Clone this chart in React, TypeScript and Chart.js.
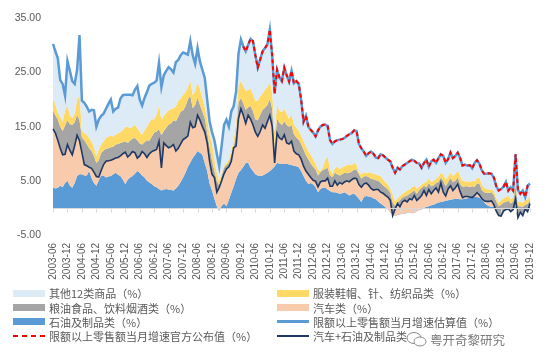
import React, { useEffect, useRef } from 'react';
import { Chart, registerables } from 'chart.js';

Chart.register(...registerables);

// Monthly categories 2003-06 .. 2019-12
const months: string[] = [];
for (let i = 0; i < 199; i++) {
  const t = 2003 * 12 + 5 + i;
  const y = Math.floor(t / 12);
  const m = (t % 12) + 1;
  months.push(`${y}-${String(m).padStart(2, '0')}`);
}

// Boundaries of the stacked areas (cumulative, %)
// 石油及制品类 (top of blue area)
const oilTop = [
  3.8, 3.6, 3.7, 4.1, 3.8, 4.6, 5.0, 4.1, 3.7, 4.6, 5.9, 6.2,
  6.2, 6.0, 6.0, 6.8, 5.5, 4.6, 4.1, 5.1, 6.0, 6.0, 5.6, 5.8,
  5.9, 6.2, 6.5, 6.1, 5.9, 5.2, 4.4, 5.2, 5.6, 5.9, 6.3, 6.8,
  6.5, 6.0, 5.6, 5.0, 4.7, 4.4, 4.0, 3.8, 3.5, 3.2, 3.4, 3.5,
  3.4, 3.3, 3.2, 3.6, 4.1, 4.8, 5.6, 6.5, 7.6, 8.4, 9.2, 9.8,
  10.5, 10.2, 9.8, 8.3, 6.8, 4.5, 3.2, 1.7, 0.3, -0.6, 0.4, 0.8,
  0.3, 1.5, 2.8, 4.0, 5.4, 6.5, 7.0, 7.6, 8.3, 8.4, 7.4, 6.8,
  6.2, 6.0, 5.9, 6.0, 6.2, 6.5, 6.8, 7.2, 7.7, 8.3, 8.2, 8.1,
  8.1, 8.2, 8.0, 7.9, 7.8, 7.7, 7.5, 6.8, 5.9, 5.0, 4.4, 4.6,
  4.3, 3.8, 2.9, 3.5, 3.7, 3.8, 3.4, 3.1, 2.9, 2.9, 2.8, 2.6,
  2.7, 2.9, 2.6, 2.3, 2.5, 2.6, 2.2, 1.7, 1.1, 2.0, 2.2, 2.1,
  2.0, 1.8, 1.6, 1.2, 0.8, 0.5, 0.1, -0.3, -0.8, -1.3, -1.4, -1.3,
  -1.2, -1.0, -1.1, -0.9, -0.8, -1.0, -0.9, -0.6, -0.4, -0.3, 0.0, 0.2,
  0.3, 0.5, 0.6, 0.8, 1.0, 1.1, 1.2, 1.3, 1.4, 1.5, 1.6, 1.7,
  1.7, 1.6, 1.6, 1.7, 1.8, 1.9, 2.0, 2.1, 2.0, 1.9, 1.5, 1.0,
  0.6, 0.3, 0.2, 0.2, -0.2, -0.4, -0.4, -0.2, 0.0, 0.1, 0.0, 0.1,
  0.3, -0.3, -0.2, -0.3, -0.1, 0.0, 0.2,
];

// 汽车+石油及制品类 (navy line, top of peach area)
const autoPlusOil = [
  14.6, 13.8, 12.5, 11.0, 9.8, 9.9, 11.7, 10.6, 9.8, 11.5, 13.4, 12.4,
  10.2, 8.0, 7.8, 7.5, 7.3, 6.6, 5.8, 5.7, 6.9, 8.0, 8.6, 8.7,
  8.8, 9.0, 9.2, 9.3, 9.6, 10.0, 10.3, 9.4, 9.8, 10.4, 10.2, 9.2,
  9.6, 10.4, 10.0, 9.3, 10.0, 10.4, 10.6, 10.8, 12.3, 7.4, 12.0, 11.5,
  11.1, 11.3, 11.7, 10.5, 11.0, 11.8, 12.6, 12.9, 13.3, 15.8, 14.8, 15.0,
  17.1, 16.2, 15.0, 14.0, 12.0, 8.6, 6.2, 5.6, 2.9, 3.8, 5.0, 6.3,
  7.2, 7.6, 8.6, 11.1, 11.4, 16.5, 18.3, 17.1, 15.6, 17.1, 16.4, 15.3,
  14.0, 13.2, 14.1, 15.3, 14.7, 15.9, 17.1, 15.0, 8.3, 13.8, 12.9, 12.6,
  13.5, 12.0, 11.8, 12.3, 10.5, 10.0, 9.8, 9.0, 7.7, 6.8, 6.2, 5.6,
  5.1, 4.9, 3.9, 4.8, 5.0, 5.0, 5.5, 4.0, 4.0, 5.0, 4.2, 4.7,
  4.4, 4.8, 5.0, 4.8, 5.2, 5.5, 5.4, 4.3, 3.8, 4.4, 4.6, 4.2,
  3.6, 3.3, 3.4, 3.4, 2.9, 2.7, 2.3, 2.0, 1.4, -1.4, -0.2, 0.8,
  0.2, 1.1, 1.4, 1.1, 1.7, 1.5, 2.3, 1.4, 1.8, 2.3, 3.2, 2.3,
  3.4, 2.6, 3.2, 3.7, 2.9, 4.6, 2.9, 2.2, 3.5, 4.1, 3.2, 3.7,
  4.4, 3.0, 1.9, 2.1, 2.1, 2.0, 1.9, 2.3, 2.8, 2.4, 1.7, 1.3,
  1.2, 1.2, 1.3, 0.6, -0.6, -1.4, -1.5, -0.6, -0.3, -0.2, -0.7, -0.3,
  1.6, -1.8, -0.8, -1.4, -0.2, -0.7, 0.8,
];

// top of 粮油食品、饮料烟酒类 (grey area)
const foodTop = [
  18.0, 17.1, 16.3, 15.0, 14.2, 15.2, 16.2, 15.5, 15.3, 15.8, 17.2, 16.2,
  13.0, 12.5, 11.8, 11.0, 10.5, 9.6, 8.3, 8.8, 10.2, 10.6, 10.9, 11.0,
  11.2, 11.3, 11.7, 11.8, 12.0, 12.1, 12.3, 12.0, 12.4, 12.8, 12.9, 12.5,
  11.9, 11.7, 12.1, 12.5, 12.4, 13.2, 13.9, 14.1, 14.5, 13.4, 14.2, 14.8,
  15.4, 15.6, 16.2, 16.0, 16.8, 17.8, 18.0, 18.8, 20.0, 20.7, 18.4, 19.0,
  20.4, 19.0, 17.8, 16.5, 14.0, 11.2, 8.8, 6.8, 5.0, 4.2, 6.0, 7.4,
  7.9, 8.3, 9.8, 11.2, 14.0, 19.5, 20.3, 19.3, 18.1, 18.6, 18.8, 17.9,
  16.3, 16.2, 17.2, 18.1, 18.5, 19.0, 20.1, 18.3, 11.1, 16.5, 15.7, 15.3,
  16.0, 15.3, 15.0, 15.3, 13.6, 13.0, 12.6, 11.8, 10.8, 9.7, 9.0, 8.2,
  7.6, 7.1, 6.0, 6.6, 7.0, 7.2, 7.4, 6.0, 5.7, 6.5, 6.2, 6.0,
  6.2, 6.5, 6.4, 6.5, 6.7, 7.1, 7.0, 6.2, 5.4, 5.8, 5.9, 5.7,
  5.4, 5.3, 5.1, 5.0, 4.6, 4.2, 3.8, 3.4, 2.8, 1.0, 0.4, 1.1,
  1.4, 1.9, 2.1, 2.3, 2.6, 2.9, 3.2, 2.6, 3.3, 3.7, 4.1, 3.8,
  4.6, 4.0, 4.2, 4.6, 4.8, 5.6, 5.0, 4.0, 4.8, 5.5, 4.8, 5.0,
  5.6, 4.4, 3.9, 4.0, 4.0, 3.8, 4.0, 3.9, 4.5, 4.5, 3.3, 2.9,
  2.8, 2.8, 2.9, 2.4, 1.2, 0.3, 0.6, 1.0, 1.1, 1.3, 0.8, 1.2,
  4.0, 0.3, 0.3, 0.2, 0.6, 0.7, 1.5,
];

// top of 服装鞋帽、针、纺织品类 (yellow area)
const clothingTop = [
  20.4, 19.1, 17.6, 16.8, 15.9, 18.0, 18.9, 17.1, 16.6, 17.4, 20.0, 20.8,
  14.4, 13.8, 13.5, 12.9, 12.3, 11.2, 9.6, 10.8, 11.7, 12.3, 13.0, 13.2,
  13.3, 13.2, 13.5, 13.8, 14.0, 14.4, 15.0, 15.0, 14.7, 15.0, 15.3, 14.8,
  14.0, 13.5, 14.3, 15.0, 15.8, 16.4, 16.3, 17.3, 19.0, 16.2, 17.0, 17.5,
  18.0, 18.3, 18.4, 18.7, 19.8, 20.2, 20.9, 21.4, 22.3, 23.5, 20.8, 21.6,
  23.2, 22.0, 20.3, 18.6, 16.5, 13.5, 12.0, 9.0, 6.5, 5.0, 6.5, 7.8,
  8.3, 9.0, 10.6, 12.5, 16.0, 22.5, 23.5, 22.5, 21.6, 21.8, 22.0, 21.0,
  19.8, 19.8, 20.6, 21.1, 21.8, 22.3, 23.3, 21.2, 14.0, 19.2, 17.9, 17.7,
  18.3, 17.4, 16.4, 17.3, 15.4, 14.8, 14.2, 13.3, 12.4, 11.3, 10.5, 9.8,
  9.0, 8.2, 7.1, 6.8, 7.5, 8.9, 9.5, 7.2, 6.3, 7.3, 7.6, 7.2,
  7.5, 7.7, 7.9, 8.0, 7.9, 8.3, 8.0, 6.6, 6.2, 6.6, 6.5, 6.6,
  6.5, 6.3, 6.2, 6.0, 5.9, 5.3, 4.8, 4.3, 3.6, 2.5, 1.2, 1.8,
  2.2, 2.6, 2.9, 3.2, 3.4, 3.8, 4.1, 3.6, 3.9, 4.3, 4.7, 4.8,
  5.5, 4.8, 5.0, 5.4, 5.8, 6.5, 6.2, 5.2, 5.8, 6.6, 5.9, 6.2,
  7.0, 5.9, 5.0, 4.9, 4.9, 4.8, 5.0, 4.9, 5.5, 5.6, 4.3, 3.7,
  3.5, 3.4, 3.4, 3.1, 1.8, 1.0, 1.4, 1.8, 2.0, 2.3, 1.6, 1.9,
  5.0, 1.1, 1.1, 1.0, 1.3, 1.6, 2.2,
];

// 限额以上零售额当月增速估算值 (blue line, top of stack)
const estimate = [
  30.3, 28.9, 27.6, 23.6, 22.9, 20.7, 27.1, 25.3, 23.4, 22.9, 25.5, 31.9,
  19.8, 19.4, 18.7, 17.8, 18.1, 18.0, 15.0, 16.3, 17.0, 17.4, 18.3, 19.2,
  20.0, 17.8, 18.3, 18.5, 20.2, 20.8, 20.9, 20.9, 20.9, 20.8, 21.8, 22.5,
  20.0, 18.9, 20.3, 21.4, 22.6, 22.9, 23.1, 23.5, 26.8, 22.3, 24.5, 25.3,
  26.0, 25.6, 25.0, 26.9, 27.3, 28.2, 28.7, 28.5, 28.3, 30.8, 28.2, 26.6,
  29.5, 27.0, 25.5, 24.0, 20.0, 16.0, 14.0, 12.5, 10.0, 7.7, 11.5, 15.3,
  16.3, 15.0, 17.8, 18.8, 21.5, 28.5, 31.1, 29.8, 28.9, 30.1, 31.2, 30.8,
  28.2, 25.9, 27.4, 28.9, 29.5, 30.2, 32.9, 28.0, 21.1, 25.5, 24.1, 23.4,
  25.9, 24.5, 23.3, 25.3, 23.0, 23.4, 22.9, 20.0, 15.9, 17.0, 15.0, 14.4,
  13.9, 13.2, 14.3, 15.0, 15.3, 15.4, 15.1, 12.5, 11.8, 12.3, 12.5, 12.6,
  12.7, 12.9, 13.3, 13.6, 13.8, 14.3, 14.2, 11.8, 11.0, 10.4, 9.6, 10.1,
  10.4, 10.0, 9.3, 9.2, 9.9, 9.7, 9.3, 8.9, 8.6, 7.4, 6.5, 7.4,
  7.1, 7.7, 8.0, 8.3, 8.6, 8.9, 8.7, 8.3, 8.2, 7.4, 8.3, 8.9,
  7.6, 8.6, 8.9, 8.3, 9.2, 9.9, 9.6, 8.3, 9.0, 10.2, 9.2, 9.6,
  10.2, 9.2, 7.8, 8.0, 7.8, 7.9, 7.3, 8.3, 8.8, 8.2, 6.9, 6.3,
  6.3, 6.4, 6.3, 5.6, 4.0, 3.2, 3.5, 3.9, 4.8, 3.2, 3.8, 3.2,
  9.9, 3.3, 2.6, 3.2, 2.0, 4.1, 4.5,
];

// 限额以上零售额当月增速官方公布值 (red dashed), 2010-01 .. 2019-12
const officialStart = '2010-01';
const official = [
  29.8, 28.9, 30.1, 31.2, 30.8,
  28.2, 25.9, 27.4, 28.9, 29.5, 30.2, 32.9, 28.0, 21.1, 25.5, 24.1, 23.4,
  25.9, 24.5, 23.3, 25.3, 23.0, 23.4, 22.9, 20.0, 15.9, 17.0, 15.0, 14.4,
  13.9, 13.2, 14.3, 15.0, 15.3, 15.4, 15.1, 12.5, 11.8, 12.3, 12.5, 12.6,
  12.7, 12.9, 13.3, 13.6, 13.8, 14.3, 14.2, 11.8, 11.0, 10.4, 9.6, 10.1,
  10.4, 10.0, 9.3, 9.2, 9.9, 9.7, 9.3, 8.9, 8.6, 7.4, 6.5, 7.4,
  7.1, 7.7, 8.0, 8.3, 8.6, 8.9, 8.7, 8.3, 8.2, 7.4, 8.3, 8.9,
  7.6, 8.6, 8.9, 8.3, 9.2, 9.9, 9.6, 8.3, 9.0, 10.2, 9.2, 9.6,
  10.2, 9.2, 7.8, 8.0, 7.8, 7.9, 7.3, 8.3, 8.8, 8.2, 6.9, 6.3,
  6.3, 6.4, 6.3, 5.6, 4.0, 3.2, 3.5, 3.9, 4.8, 3.2, 3.8, 3.2,
  9.9, 3.3, 2.6, 3.2, 2.0, 4.1, 4.5,
];

const yTicks = [-5, 5, 15, 25, 35];

const C_OTHER = '#DDEBF7';
const C_CLOTH = '#FFD966';
const C_FOOD = '#A5A5A5';
const C_AUTO = '#F8CBAD';
const C_OIL = '#5B9BD5';
const C_EST = '#5B9BD5';
const C_OFF = '#FF0000';
const C_NAVY = '#1F3864';

const officialData: (number | null)[] = months.map(() => null);
const offIdx = months.indexOf(officialStart);
official.forEach((v, i) => { officialData[offIdx + i] = v; });

const zeroAxis = {
  id: 'zeroAxis',
  afterDatasetsDraw(chart: any) {
    const { ctx, chartArea, scales } = chart;
    const x = scales.x, y = scales.y;
    const y0 = Math.round(y.getPixelForValue(0)) + 0.5;
    ctx.save();
    ctx.strokeStyle = '#D9D9D9';
    ctx.lineWidth = 1;
    ctx.setLineDash([]);
    ctx.beginPath();
    ctx.moveTo(chartArea.left, y0);
    ctx.lineTo(chartArea.right, y0);
    for (let i = 0; i < months.length; i += 6) {
      const px = Math.round(x.getPixelForValue(i)) + 0.5;
      ctx.moveTo(px, y0);
      ctx.lineTo(px, y0 + 4);
    }
    ctx.stroke();
    ctx.restore();
  },
};

const areaDs = (label: string, data: number[], color: string, fill: any, order: number) => ({
  type: 'line' as const,
  label,
  data,
  backgroundColor: color,
  borderColor: 'rgba(0,0,0,0)',
  borderWidth: 0,
  pointRadius: 0,
  pointHoverRadius: 0,
  tension: 0,
  fill,
  order,
});

const FONT = "'Liberation Sans', 'Noto Sans CJK SC', sans-serif";
const CJK = "'Noto Sans CJK SC', 'Liberation Sans', sans-serif";

type LegendItem = { label: string; kind: 'box' | 'line' | 'dash'; color: string; col: number; row: number; thick?: number };
const legendItems: LegendItem[] = [
  { label: '其他12类商品（%）', kind: 'box', color: C_OTHER, col: 0, row: 0 },
  { label: '服装鞋帽、针、纺织品类（%）', kind: 'box', color: C_CLOTH, col: 1, row: 0 },
  { label: '粮油食品、饮料烟酒类（%）', kind: 'box', color: C_FOOD, col: 0, row: 1 },
  { label: '汽车类（%）', kind: 'box', color: C_AUTO, col: 1, row: 1 },
  { label: '石油及制品类（%）', kind: 'box', color: C_OIL, col: 0, row: 2 },
  { label: '限额以上零售额当月增速估算值（%）', kind: 'line', color: C_EST, col: 1, row: 2, thick: 3 },
  { label: '限额以上零售额当月增速官方公布值（%）', kind: 'dash', color: C_OFF, col: 0, row: 3 },
  { label: '汽车+石油及制品类', kind: 'line', color: C_NAVY, col: 1, row: 3, thick: 2 },
];
const rowY = [293, 307.5, 321.7, 336];
const colX = [13, 277];

export default function App() {
  const ref = useRef<HTMLCanvasElement>(null);
  useEffect(() => {
    document.body.style.margin = '0';
    const chart = new Chart(ref.current as HTMLCanvasElement, {
      type: 'line',
      data: {
        labels: months,
        datasets: [
          areaDs('石油及制品类（%）', oilTop, C_OIL, 'origin', 7),
          areaDs('汽车类（%）', autoPlusOil, C_AUTO, '-1', 6),
          areaDs('粮油食品、饮料烟酒类（%）', foodTop, C_FOOD, '-1', 5),
          areaDs('服装鞋帽、针、纺织品类（%）', clothingTop, C_CLOTH, '-1', 4),
          areaDs('其他12类商品（%）', estimate, C_OTHER, '-1', 3),
          {
            type: 'line', label: '限额以上零售额当月增速估算值（%）', data: estimate,
            borderColor: C_EST, backgroundColor: C_EST, borderWidth: 2.5, pointRadius: 0,
            tension: 0, fill: false, order: 2,
          },
          {
            type: 'line', label: '汽车+石油及制品类', data: autoPlusOil,
            borderColor: C_NAVY, backgroundColor: C_NAVY, borderWidth: 1.6, pointRadius: 0,
            tension: 0, fill: false, order: 1,
          },
          {
            type: 'line', label: '限额以上零售额当月增速官方公布值（%）', data: officialData,
            borderColor: C_OFF, backgroundColor: C_OFF, borderWidth: 2, borderDash: [4, 3],
            pointRadius: 0, tension: 0, fill: false, order: 0,
          },
        ] as any,
      },
      options: {
        animation: false,
        responsive: false,
        devicePixelRatio: 1,
        layout: { padding: { left: 0, right: 12, top: 15, bottom: 0 } },
        plugins: { legend: { display: false }, tooltip: { enabled: false } },
        scales: {
          x: {
            type: 'category',
            offset: false,
            grid: { display: false, drawTicks: false },
            border: { display: false },
            ticks: {
              autoSkip: false,
              minRotation: 90,
              maxRotation: 90,
              padding: 8,
              color: '#595959',
              font: { family: FONT, size: 10 },
              callback: (_v: any, i: number) => (i % 6 === 0 ? months[i] : null),
            },
            afterFit: (s: any) => { s.height = 55; },
          },
          y: {
            min: -5,
            max: 35,
            grid: { display: false, drawTicks: false },
            border: { display: false },
            afterBuildTicks: (s: any) => { s.ticks = yTicks.map((v) => ({ value: v })); },
            ticks: {
              padding: 12,
              color: '#595959',
              font: { family: FONT, size: 10.5 },
              callback: (v: any) => Number(v).toFixed(2),
            },
            afterFit: (s: any) => { s.width = 53; },
          },
        },
      },
      plugins: [zeroAxis],
    });
    return () => chart.destroy();
  }, []);

  return (
    <div style={{ position: 'relative', width: 550, height: 364, background: '#ffffff', overflow: 'hidden' }}>
      <canvas ref={ref} width={550} height={290} style={{ position: 'absolute', left: 0, top: 0, width: 550, height: 290 }} />
      {legendItems.map((it) => {
        const cy = rowY[it.row];
        const x0 = colX[it.col];
        let marker: React.ReactNode;
        if (it.kind === 'box') {
          marker = <div style={{ position: 'absolute', left: x0, top: cy - 3.5, width: 32, height: 7, background: it.color }} />;
        } else if (it.kind === 'line') {
          const t = it.thick || 2;
          marker = <div style={{ position: 'absolute', left: x0, top: cy - t / 2, width: 32, height: t, background: it.color }} />;
        } else {
          marker = (
            <div style={{ position: 'absolute', left: x0, top: cy - 1, width: 32, height: 2,
              backgroundImage: `repeating-linear-gradient(to right, ${it.color} 0 5px, transparent 5px 9px)` }} />
          );
        }
        return (
          <React.Fragment key={it.label}>
            {marker}
            <div style={{ position: 'absolute', left: x0 + 36, top: cy - 8, height: 16, lineHeight: '16px',
              fontFamily: CJK, fontSize: 11, color: '#595959', whiteSpace: 'nowrap' }}>{it.label}</div>
          </React.Fragment>
        );
      })}
      <svg style={{ position: 'absolute', left: 406, top: 331 }} width={22} height={17} viewBox="0 0 22 17">
        <ellipse cx="8" cy="7" rx="7" ry="5.5" fill="none" stroke="#8a8a8a" strokeWidth="1" />
        <ellipse cx="14" cy="10.5" rx="6" ry="4.5" fill="#ffffff" stroke="#8a8a8a" strokeWidth="1" />
      </svg>
      <div style={{ position: 'absolute', left: 430, top: 332, fontFamily: CJK, fontSize: 12.5, lineHeight: '16px',
        color: '#7a7a7a', whiteSpace: 'nowrap' }}>粤开奇黎研究</div>
    </div>
  );
}
